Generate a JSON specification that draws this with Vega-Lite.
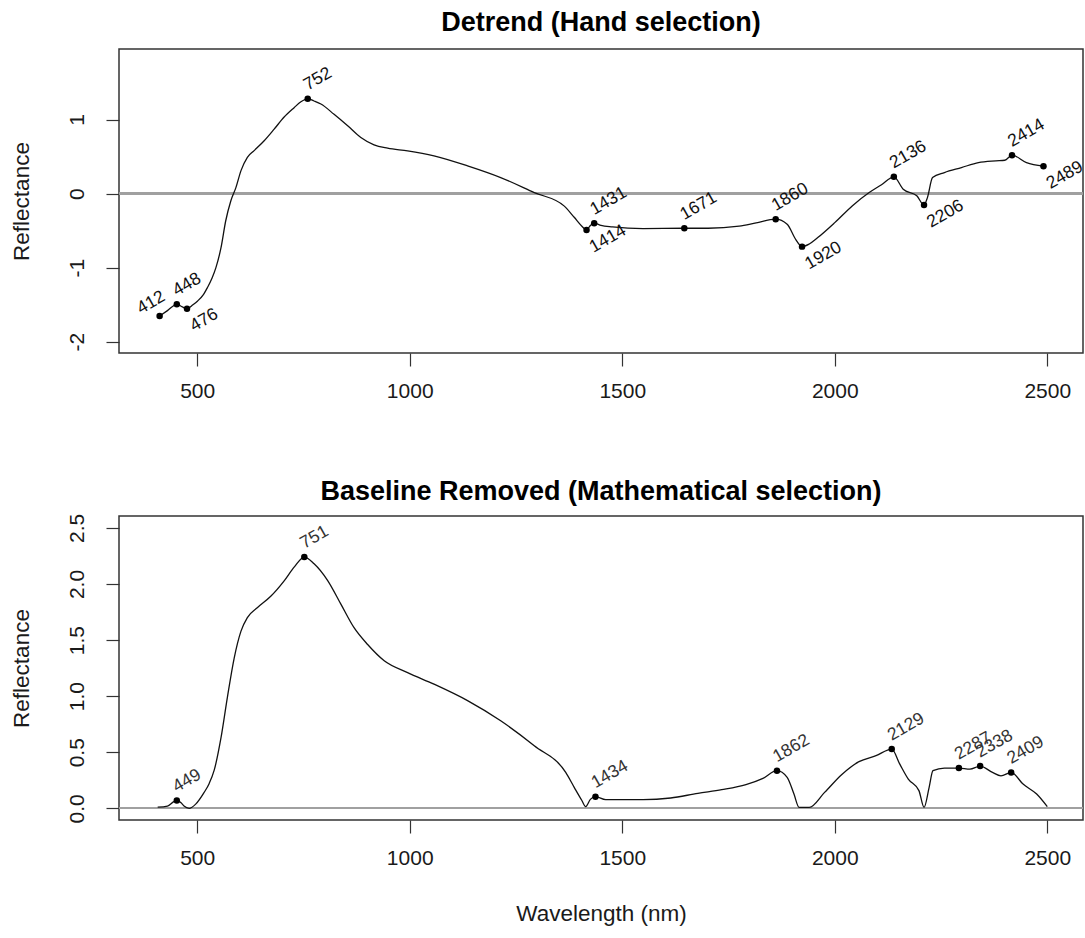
{
  "$schema": "https://vega.github.io/schema/vega-lite/v6.json",
  "padding": {"left": 9, "top": 8, "right": 2, "bottom": 5},
  "background": "white",
  "config": {
    "font": "Liberation Sans",
    "view": {"stroke": "#333333", "strokeWidth": 1.5},
    "axis": {"grid": false, "domain": false, "tickColor": "#333333", "tickWidth": 1.2, "tickSize": 13, "labelFontSize": 21, "labelColor": "#1a1a1a", "titleFontSize": 22.5, "titleFontWeight": "normal", "titleColor": "#1a1a1a", "labelFont": "Liberation Sans", "titleFont": "Liberation Sans"},
    "title": {"fontSize": 27, "fontWeight": "bold", "color": "#000000", "anchor": "middle", "baseline": "alphabetic", "offset": 12, "font": "Liberation Sans"}
  },
  "datasets": {
    "top_curve": [
      {"wl":411.6,"r":-1.653},{"wl":430,"r":-1.58},{"wl":452,"r":-1.495},{"wl":465,"r":-1.53},{"wl":476,"r":-1.554},{"wl":490,"r":-1.5},{"wl":501,"r":-1.45},{"wl":515,"r":-1.36},{"wl":524,"r":-1.27},{"wl":535,"r":-1.14},{"wl":544,"r":-1.0},{"wl":556,"r":-0.73},{"wl":567,"r":-0.37},{"wl":579,"r":-0.10},{"wl":591,"r":0.08},{"wl":603,"r":0.31},{"wl":618,"r":0.49},{"wl":634,"r":0.58},{"wl":657,"r":0.71},{"wl":681,"r":0.87},{"wl":704,"r":1.03},{"wl":728,"r":1.16},{"wl":744,"r":1.24},{"wl":760,"r":1.28},{"wl":775,"r":1.25},{"wl":791,"r":1.21},{"wl":822,"r":1.07},{"wl":854,"r":0.915},{"wl":885,"r":0.757},{"wl":916,"r":0.658},{"wl":948,"r":0.613},{"wl":995,"r":0.577},{"wl":1057,"r":0.51},{"wl":1136,"r":0.374},{"wl":1214,"r":0.216},{"wl":1293,"r":0.014},{"wl":1363,"r":-0.166},{"wl":1387,"r":-0.32},{"wl":1405,"r":-0.44},{"wl":1416,"r":-0.49},{"wl":1425,"r":-0.43},{"wl":1434,"r":-0.40},{"wl":1450,"r":-0.43},{"wl":1477,"r":-0.45},{"wl":1549,"r":-0.473},{"wl":1646,"r":-0.468},{"wl":1702,"r":-0.468},{"wl":1775,"r":-0.44},{"wl":1815,"r":-0.396},{"wl":1861,"r":-0.346},{"wl":1888,"r":-0.414},{"wl":1908,"r":-0.617},{"wl":1923,"r":-0.716},{"wl":1940,"r":-0.68},{"wl":1960,"r":-0.594},{"wl":2000,"r":-0.392},{"wl":2041,"r":-0.166},{"wl":2081,"r":0.014},{"wl":2110,"r":0.12},{"wl":2139,"r":0.226},{"wl":2161,"r":0.059},{"wl":2193,"r":-0.03},{"wl":2210,"r":-0.153},{"wl":2218,"r":-0.054},{"wl":2230,"r":0.216},{"wl":2258,"r":0.284},{"wl":2298,"r":0.351},{"wl":2338,"r":0.419},{"wl":2379,"r":0.442},{"wl":2400,"r":0.45},{"wl":2417,"r":0.518},{"wl":2451,"r":0.419},{"wl":2491,"r":0.37}
    ],
    "top_pts": [
      {"wl":411.6,"r":-1.653,"label":"412","side":"abovecenter"},
      {"wl":452,"r":-1.495,"label":"448","side":"above"},
      {"wl":476,"r":-1.554,"label":"476","side":"below"},
      {"wl":760,"r":1.28,"label":"752","side":"above"},
      {"wl":1416,"r":-0.49,"label":"1414","side":"below"},
      {"wl":1434,"r":-0.40,"label":"1431","side":"above"},
      {"wl":1646,"r":-0.468,"label":"1671","side":"above"},
      {"wl":1861,"r":-0.346,"label":"1860","side":"above"},
      {"wl":1923,"r":-0.716,"label":"1920","side":"below"},
      {"wl":2139,"r":0.226,"label":"2136","side":"above"},
      {"wl":2210,"r":-0.153,"label":"2206","side":"below"},
      {"wl":2417,"r":0.518,"label":"2414","side":"above"},
      {"wl":2491,"r":0.37,"label":"2489","side":"below"}
    ],
    "bot_curve": [
      {"wl":407,"r":0.01},{"wl":430,"r":0.02},{"wl":445,"r":0.06},{"wl":452,"r":0.07},{"wl":462,"r":0.05},{"wl":469,"r":0.02},{"wl":481,"r":0.0},{"wl":497,"r":0.04},{"wl":516,"r":0.14},{"wl":528,"r":0.22},{"wl":540,"r":0.34},{"wl":556,"r":0.63},{"wl":571,"r":0.99},{"wl":587,"r":1.34},{"wl":603,"r":1.58},{"wl":618,"r":1.70},{"wl":642,"r":1.79},{"wl":673,"r":1.89},{"wl":705,"r":2.03},{"wl":728,"r":2.15},{"wl":752,"r":2.24},{"wl":775,"r":2.18},{"wl":807,"r":2.03},{"wl":838,"r":1.82},{"wl":869,"r":1.61},{"wl":901,"r":1.46},{"wl":940,"r":1.315},{"wl":995,"r":1.21},{"wl":1057,"r":1.107},{"wl":1136,"r":0.96},{"wl":1214,"r":0.78},{"wl":1293,"r":0.558},{"wl":1367,"r":0.32},{"wl":1387,"r":0.187},{"wl":1405,"r":0.07},{"wl":1414,"r":0.015},{"wl":1425,"r":0.08},{"wl":1437,"r":0.104},{"wl":1461,"r":0.077},{"wl":1549,"r":0.077},{"wl":1614,"r":0.092},{"wl":1678,"r":0.134},{"wl":1734,"r":0.166},{"wl":1791,"r":0.211},{"wl":1831,"r":0.267},{"wl":1864,"r":0.336},{"wl":1888,"r":0.276},{"wl":1904,"r":0.127},{"wl":1916,"r":0.009},{"wl":1940,"r":0.009},{"wl":1976,"r":0.142},{"wl":2016,"r":0.30},{"wl":2057,"r":0.416},{"wl":2097,"r":0.469},{"wl":2134,"r":0.528},{"wl":2153,"r":0.394},{"wl":2173,"r":0.261},{"wl":2198,"r":0.158},{"wl":2210,"r":0.009},{"wl":2222,"r":0.187},{"wl":2231,"r":0.336},{"wl":2258,"r":0.359},{"wl":2292,"r":0.359},{"wl":2318,"r":0.35},{"wl":2342,"r":0.377},{"wl":2371,"r":0.32},{"wl":2391,"r":0.29},{"wl":2415,"r":0.32},{"wl":2443,"r":0.216},{"wl":2475,"r":0.127},{"wl":2500,"r":0.015}
    ],
    "bot_pts": [
      {"wl":452,"r":0.07,"label":"449"},
      {"wl":752,"r":2.24,"label":"751"},
      {"wl":1437,"r":0.104,"label":"1434"},
      {"wl":1864,"r":0.336,"label":"1862"},
      {"wl":2134,"r":0.528,"label":"2129"},
      {"wl":2292,"r":0.359,"label":"2287"},
      {"wl":2342,"r":0.377,"label":"2338"},
      {"wl":2415,"r":0.32,"label":"2409"}
    ]
  },
  "spacing": 75,
  "vconcat": [
    {
      "width": 964,
      "height": 304,
      "title": "Detrend (Hand selection)",
      "layer": [
        {
          "data": {"name": "top_curve"},
          "mark": {"type": "rule", "color": "#a0a0a0", "strokeWidth": 1.5},
          "encoding": {"y": {"datum": 0, "type": "quantitative", "scale": {"domain": [-2.152, 1.952], "nice": false, "zero": false}}}
        },
        {
          "data": {"name": "top_curve"},
          "mark": {"type": "line", "color": "#111111", "strokeWidth": 1.3, "interpolate": "monotone"},
          "encoding": {
            "x": {"field": "wl", "type": "quantitative", "scale": {"domain": [316, 2584], "nice": false, "zero": false}, "axis": {"values": [500, 1000, 1500, 2000, 2500], "labelExpr": "'' + datum.value", "title": null, "labelPadding": 14, "labelFlush": false}},
            "y": {"field": "r", "type": "quantitative", "scale": {"domain": [-2.152, 1.952], "nice": false, "zero": false}, "axis": {"values": [-2, -1, 0, 1], "labelExpr": "'' + datum.value", "title": "Reflectance", "labelAngle": -90, "labelAlign": "center", "labelBaseline": "bottom", "labelPadding": 19, "titlePadding": 33}}
          }
        },
        {
          "data": {"name": "top_pts"},
          "mark": {"type": "circle", "size": 42, "color": "#000000", "opacity": 1},
          "encoding": {
            "x": {"field": "wl", "type": "quantitative", "scale": {"domain": [316, 2584], "nice": false, "zero": false}},
            "y": {"field": "r", "type": "quantitative", "scale": {"domain": [-2.152, 1.952], "nice": false, "zero": false}}
          }
        },
        {
          "data": {"name": "top_pts"},
          "transform": [{"filter": "datum.side == 'above'"}],
          "mark": {"type": "text", "angle": -30, "align": "left", "baseline": "alphabetic", "dx": 4, "dy": -7, "fontSize": 17.5, "color": "#111111"},
          "encoding": {
            "x": {"field": "wl", "type": "quantitative", "scale": {"domain": [316, 2584], "nice": false, "zero": false}},
            "y": {"field": "r", "type": "quantitative", "scale": {"domain": [-2.152, 1.952], "nice": false, "zero": false}},
            "text": {"field": "label"}
          }
        },
        {
          "data": {"name": "top_pts"},
          "transform": [{"filter": "datum.side == 'abovecenter'"}],
          "mark": {"type": "text", "angle": -30, "align": "center", "baseline": "alphabetic", "dx": -0.7, "dy": -10.8, "fontSize": 17.5, "color": "#111111"},
          "encoding": {
            "x": {"field": "wl", "type": "quantitative", "scale": {"domain": [316, 2584], "nice": false, "zero": false}},
            "y": {"field": "r", "type": "quantitative", "scale": {"domain": [-2.152, 1.952], "nice": false, "zero": false}},
            "text": {"field": "label"}
          }
        },
        {
          "data": {"name": "top_pts"},
          "transform": [{"filter": "datum.side == 'below'"}],
          "mark": {"type": "text", "angle": -30, "align": "left", "baseline": "top", "dx": -5.5, "dy": 9.5, "fontSize": 17.5, "color": "#111111"},
          "encoding": {
            "x": {"field": "wl", "type": "quantitative", "scale": {"domain": [316, 2584], "nice": false, "zero": false}},
            "y": {"field": "r", "type": "quantitative", "scale": {"domain": [-2.152, 1.952], "nice": false, "zero": false}},
            "text": {"field": "label"}
          }
        }
      ]
    },
    {
      "width": 964,
      "height": 304,
      "title": {"text": "Baseline Removed (Mathematical selection)", "offset": 7},
      "layer": [
        {
          "data": {"name": "bot_curve"},
          "mark": {"type": "rule", "color": "#a0a0a0", "strokeWidth": 1.5},
          "encoding": {"y": {"datum": 0, "type": "quantitative", "scale": {"domain": [-0.104, 2.606], "nice": false, "zero": false}}}
        },
        {
          "data": {"name": "bot_curve"},
          "mark": {"type": "line", "color": "#111111", "strokeWidth": 1.3, "interpolate": "monotone"},
          "encoding": {
            "x": {"field": "wl", "type": "quantitative", "scale": {"domain": [316, 2584], "nice": false, "zero": false}, "axis": {"values": [500, 1000, 1500, 2000, 2500], "labelExpr": "'' + datum.value", "title": "Wavelength (nm)", "labelPadding": 14, "labelFlush": false, "titlePadding": 34}},
            "y": {"field": "r", "type": "quantitative", "scale": {"domain": [-0.104, 2.606], "nice": false, "zero": false}, "axis": {"values": [0, 0.5, 1, 1.5, 2, 2.5], "format": ".1f", "title": "Reflectance", "labelAngle": -90, "labelAlign": "center", "labelBaseline": "bottom", "labelPadding": 19, "titlePadding": 33}}
          }
        },
        {
          "data": {"name": "bot_pts"},
          "mark": {"type": "circle", "size": 42, "color": "#000000", "opacity": 1},
          "encoding": {
            "x": {"field": "wl", "type": "quantitative", "scale": {"domain": [316, 2584], "nice": false, "zero": false}},
            "y": {"field": "r", "type": "quantitative", "scale": {"domain": [-0.104, 2.606], "nice": false, "zero": false}}
          }
        },
        {
          "data": {"name": "bot_pts"},
          "mark": {"type": "text", "angle": -30, "align": "left", "baseline": "alphabetic", "dx": 4, "dy": -7, "fontSize": 17.5, "color": "#333333"},
          "encoding": {
            "x": {"field": "wl", "type": "quantitative", "scale": {"domain": [316, 2584], "nice": false, "zero": false}},
            "y": {"field": "r", "type": "quantitative", "scale": {"domain": [-0.104, 2.606], "nice": false, "zero": false}},
            "text": {"field": "label"}
          }
        }
      ]
    }
  ]
}
